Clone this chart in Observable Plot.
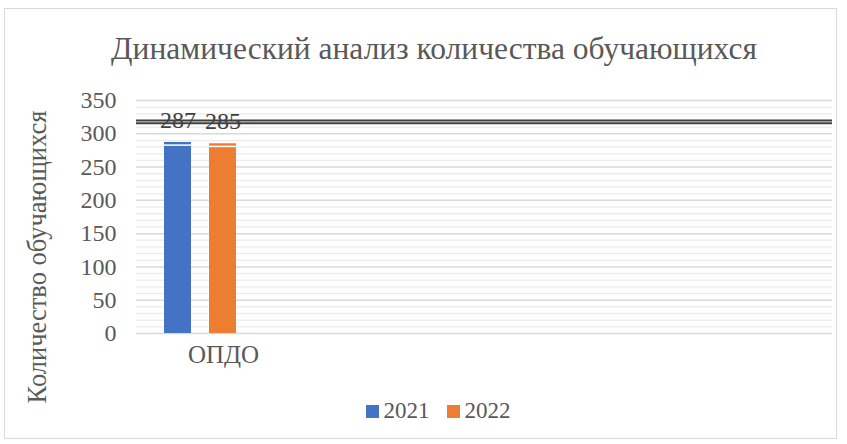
<!DOCTYPE html>
<html><head><meta charset="utf-8">
<script src="https://cdn.jsdelivr.net/npm/d3@7"></script>
<script src="https://cdn.jsdelivr.net/npm/@observablehq/plot@0.6"></script>
<style>
body{margin:0;background:#fff;}
#wrap{position:relative;width:847px;height:444px;overflow:hidden;font-family:'Liberation Serif';}
#border{position:absolute;left:4px;top:8px;width:833px;height:431px;border:1px solid #d9d9d9;box-sizing:border-box;}
#title{position:absolute;left:0;width:868px;top:29px;text-align:center;font-size:31.5px;line-height:40px;color:#595959;font-family:'Liberation Serif';}
#ytitle{position:absolute;left:37px;top:257px;transform:translate(-50%,-50%) rotate(-90deg);white-space:nowrap;font-size:26.5px;color:#595959;font-family:'Liberation Serif';}
#legend{position:absolute;top:397px;left:0;width:876px;display:flex;justify-content:center;gap:17px;font-size:23px;line-height:28px;color:#595959;font-family:'Liberation Serif';}
#legend span.item{display:flex;align-items:center;gap:5px;}
#legend i{display:inline-block;width:13px;height:13px;}
#chart{position:absolute;left:0;top:0;}
#chart svg, #chart text{font-family:'Liberation Serif' !important;}
</style></head>
<body>
<div id="wrap">
<div id="border"></div>
<div id="chart"></div>
<div id="title"></div>
<div id="ytitle"></div>
<div id="legend"></div>
</div>
<script>
const titleText = "Динамический анализ количества обучающихся";
const yTitle = "Количество обучающихся";
const categories = ["ОПДО"];
const years = ["2021", "2022"];
const values = [287, 285];
const colors = ["#4472c4", "#ed7d31"];
const yTicks = [0, 50, 100, 150, 200, 250, 300, 350];
const minorTicks = [10, 20, 30, 40, 60, 70, 80, 90, 110, 120, 130, 140, 160, 170, 180, 190, 210, 220, 230, 240, 260, 270, 280, 290, 310, 320, 330, 340];
const artifactLines = [320, 316];

const data = years.map((y, i) => ({year: y, value: values[i], category: categories[0]}));

document.getElementById("title").textContent = titleText;
document.getElementById("ytitle").textContent = yTitle;
const leg = document.getElementById("legend");
years.forEach((y, i) => {
  const s = document.createElement("span"); s.className = "item";
  s.innerHTML = `<i style="background:${colors[i]}"></i>${y}`;
  leg.appendChild(s);
});

const plot = Plot.plot({
  width: 847, height: 444,
  marginLeft: 136, marginRight: 15, marginTop: 100, marginBottom: 111,
  style: {fontFamily: "'Liberation Serif'", fontSize: "24px", color: "#595959", background: "transparent"},
  x: {type: "band", domain: years, range: [164, 236], paddingInner: 0.4, paddingOuter: 0, axis: null},
  y: {domain: [0, 350], axis: null},
  color: {domain: years, range: colors},
  marks: [
    Plot.ruleY(minorTicks, {stroke: "#eeeeee", strokeWidth: 1.5}),
    Plot.ruleY(yTicks, {stroke: "#d9d9d9", strokeWidth: 1.5}),
    Plot.axisY({ticks: yTicks, tickSize: 0, tickPadding: 20, fontSize: 24, fill: "#595959", tickFormat: d => d, label: null}),
    Plot.barY(data, {x: "year", y: "value", fill: "year"}),
    Plot.tickY(data, {x: "year", y: d => d.value - 4, stroke: "white", strokeWidth: 1.5}),
    Plot.ruleY(artifactLines, {stroke: "#404040", strokeWidth: 2}),
    Plot.text(data, {x: "year", y: "value", text: d => String(d.value), dy: -22, fontSize: 24, fill: "#404040"}),
    Plot.text(categories, {text: d => d, frameAnchor: "bottom-left", dx: 87, dy: 29, fontSize: 25, fill: "#595959", textAnchor: "middle"})
  ]
});
document.getElementById("chart").appendChild(plot);
</script>
</body></html>
